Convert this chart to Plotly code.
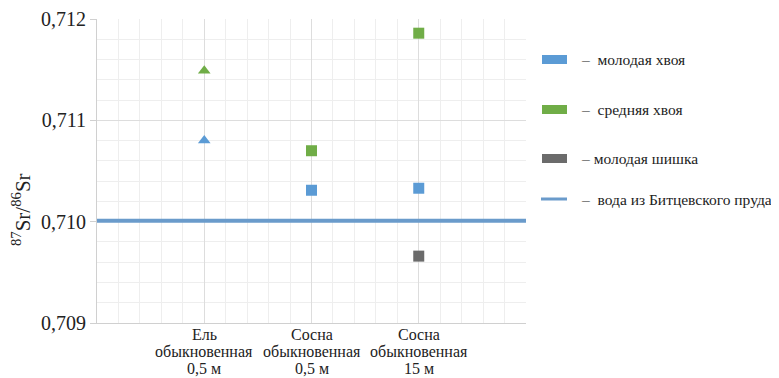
import plotly.graph_objects as go

categories = ["Ель<br>обыкновенная<br>0,5 м",
              "Сосна<br>обыкновенная<br>0,5 м",
              "Сосна<br>обыкновенная<br>15 м"]
cat_pos = [1, 2, 3]
young_needles = [0.71080, 0.71031, 0.71033]
mid_needles = [0.71149, 0.71070, 0.71186]
young_cone = [None, None, 0.70966]
water_level = 0.71001
symbols = ["triangle-up", "square", "square"]

legend_labels = ["–  молодая хвоя", "–  средняя хвоя", "– молодая шишка", "–  вода из Битцевского пруда"]
colors = ["#5B9BD5", "#70AD47", "#6B6B6B", "#6A9BCB"]

FONT = "Liberation Serif"

fig = go.Figure()
fig.add_trace(go.Scatter(x=[0, 4], y=[water_level, water_level], mode="lines",
                         line=dict(color=colors[3], width=4), showlegend=False, cliponaxis=False))
fig.add_trace(go.Scatter(x=cat_pos, y=young_needles, mode="markers",
                         marker=dict(symbol=symbols, size=11, color=colors[0]), showlegend=False))
fig.add_trace(go.Scatter(x=cat_pos, y=mid_needles, mode="markers",
                         marker=dict(symbol=symbols, size=11, color=colors[1]), showlegend=False))
fig.add_trace(go.Scatter(x=cat_pos, y=young_cone, mode="markers",
                         marker=dict(symbol=symbols, size=11, color=colors[2]), showlegend=False))

# page has an 8px body margin: figure drawn at (8, 8)
OFF = 8
W, H = 779 - OFF, 378 - OFF
L, R, T, B = 97, 526, 19, 323  # plot area in page pixels
ml, mr, mt, mb = L - OFF, W - (R - OFF), T - OFF, H - (B - OFF)
pw, ph = W - ml - mr, H - mt - mb

def px(x):
    return (x - OFF - ml) / pw

def py(y):
    return 1 - (y - OFF - mt) / ph

shapes = []
annotations = []
rows = [59.5, 109.5, 158.5, 199]
for i, (lab, col, yc) in enumerate(zip(legend_labels, colors, rows)):
    if i < 3:
        shapes.append(dict(type="rect", xref="paper", yref="paper",
                           x0=px(542), x1=px(567), y0=py(yc - 4.5), y1=py(yc + 4.5),
                           fillcolor=col, line=dict(width=0)))
    else:
        shapes.append(dict(type="line", xref="paper", yref="paper",
                           x0=px(541), x1=px(567), y0=py(yc), y1=py(yc),
                           line=dict(color=col, width=3)))
    annotations.append(dict(xref="paper", yref="paper", x=px(579), y=py(yc),
                            xanchor="left", yanchor="middle", showarrow=False,
                            text=lab, font=dict(family=FONT, size=15.5, color="#222")))

# y-axis title
annotations.append(dict(xref="paper", yref="paper", x=px(21), y=py(210),
                        xanchor="center", yanchor="middle", showarrow=False, textangle=-90,
                        text="<sup>87</sup>Sr/<sup>86</sup>Sr",
                        font=dict(family=FONT, size=21, color="#222")))

# category labels (tight line spacing)
line_y = [334, 351, 368]
for xpos, cat in zip(cat_pos, categories):
    for ly, part in zip(line_y, cat.split("<br>")):
        annotations.append(dict(xref="x", yref="paper", x=xpos, y=py(ly),
                                xanchor="center", yanchor="middle", showarrow=False,
                                text=part, font=dict(family=FONT, size=16, color="#222")))

fig.update_layout(
    width=W, height=H,
    margin=dict(l=ml, r=mr, t=mt, b=mb, autoexpand=False),
    paper_bgcolor="white", plot_bgcolor="white",
    separators=", ",
    font=dict(family=FONT, color="#222"),
    shapes=shapes, annotations=annotations,
    xaxis=dict(range=[0, 4], tickvals=cat_pos, showticklabels=False, automargin=False,
               showgrid=True, gridcolor="#dddddd", gridwidth=1,
               zeroline=False, showline=True, linecolor="#d0d0d0", mirror=False,
               ticks="", minor=dict(dtick=0.2, showgrid=True, gridcolor="#eeeeee", gridwidth=1)),
    yaxis=dict(range=[0.709, 0.712], dtick=0.001, tickformat=".3f", automargin=False,
               tickfont=dict(family=FONT, size=20, color="#222"), showgrid=True, gridcolor="#dddddd",
               zeroline=False, showline=True, linecolor="#d0d0d0",
               ticks="outside", ticklen=6, tickcolor="#d0d0d0",
               minor=dict(dtick=0.0002, showgrid=True, gridcolor="#eeeeee")),
)
fig.write_html("out.html")
